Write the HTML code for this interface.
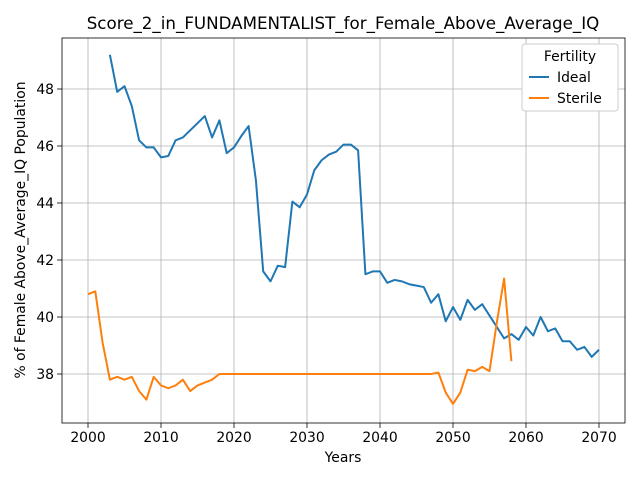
<!DOCTYPE html>
<html><head><meta charset="utf-8"><style>
body{margin:0;background:#fff;}
svg text{font-family:"DejaVu Sans","Liberation Sans",sans-serif;}
</style></head><body>
<svg id="chart" width="640" height="480" xmlns="http://www.w3.org/2000/svg"></svg>
<script>
const idealYears=[];for(let y=2003;y<=2070;y++)idealYears.push(y);
const idealValues=[49.2,47.9,48.1,47.4,46.2,45.95,45.95,45.6,45.65,46.2,46.3,46.55,46.8,47.05,46.3,46.9,45.75,45.95,46.35,46.7,44.8,41.6,41.25,41.8,41.75,44.05,43.85,44.3,45.15,45.5,45.7,45.8,46.05,46.05,45.85,41.5,41.6,41.6,41.2,41.3,41.25,41.15,41.1,41.05,40.5,40.8,39.85,40.35,39.9,40.6,40.25,40.45,40.05,39.65,39.25,39.4,39.2,39.65,39.35,40.0,39.5,39.6,39.15,39.15,38.85,38.95,38.6,38.85];
const sterileYears=[];for(let y=2000;y<=2058;y++)sterileYears.push(y);
const sterileValues=[40.8,40.9,39.1,37.8,37.9,37.8,37.9,37.4,37.1,37.9,37.6,37.5,37.6,37.8,37.4,37.6,37.7,37.8,38,38,38,38,38,38,38,38,38,38,38,38,38,38,38,38,38,38,38,38,38,38,38,38,38,38,38,38,38,38,38.05,37.35,36.95,37.35,38.15,38.1,38.25,38.1,39.8,41.35,38.45];
const xTicks=[2000,2010,2020,2030,2040,2050,2060,2070];
const yTicks=[38,40,42,44,46,48];
const L=62,R=625,T=38,B=423;
const X=v=>88+(v-2000)*7.3;
const Y=v=>374-(v-38)*28.5;
const svg=document.getElementById('chart');
const NS='http://www.w3.org/2000/svg';
function mk(tag,attrs,parent){const e=document.createElementNS(NS,tag);for(const k in attrs)e.setAttribute(k,attrs[k]);(parent||svg).appendChild(e);return e;}
function txt(s,attrs){const e=mk('text',attrs);e.textContent=s;return e;}
xTicks.forEach(t=>{
  const g=mk('line',{x1:X(t),x2:X(t),y1:T,y2:B,stroke:'#b0b0b0','stroke-width':0.8});
  
  
  mk('line',{x1:X(t),x2:X(t),y1:B,y2:B+5,stroke:'#000','stroke-width':0.8});
  const l=txt(t,{x:X(t),y:B+19,'text-anchor':'middle','font-size':13.9});
  
  
});
yTicks.forEach(t=>{
  const g=mk('line',{x1:L,x2:R,y1:Y(t),y2:Y(t),stroke:'#b0b0b0','stroke-width':0.8});
  
  
  mk('line',{x1:L-5,x2:L,y1:Y(t),y2:Y(t),stroke:'#000','stroke-width':0.8});
  const l=txt(t,{x:L-8,y:Y(t)+5,'text-anchor':'end','font-size':13.9});
  
  
});
function line(xs,vs,color,name){
  const p=mk('polyline',{points:xs.map((x,i)=>X(x)+','+Y(vs[i])).join(' '),fill:'none',stroke:color,'stroke-width':2,'stroke-linejoin':'round'});
  
  
}
line(idealYears,idealValues,'#1f77b4','ideal-line');
line(sterileYears,sterileValues,'#ff7f0e','sterile-line');
const fr=mk('rect',{x:L,y:T,width:R-L,height:B-T,fill:'none',stroke:'#000','stroke-width':0.8});


const ti=txt('Score_2_in_FUNDAMENTALIST_for_Female_Above_Average_IQ',{x:343,y:29,'text-anchor':'middle','font-size':16.7});


const xt=txt('Years',{x:343,y:462,'text-anchor':'middle','font-size':13.9});


const yt=txt('% of Female Above_Average_IQ Population',{x:0,y:0,'text-anchor':'middle','font-size':13.9,transform:'translate(25,230) rotate(-90)'});


const lg=mk('rect',{x:522,y:44,width:96,height:67,fill:'#fff',stroke:'#ccc',rx:3});


const lt=txt('Fertility',{x:570,y:61,'text-anchor':'middle','font-size':13.9});


[['Ideal','#1f77b4',77],['Sterile','#ff7f0e',98]].forEach(([n,c,y])=>{
  const s=mk('line',{x1:529,x2:549,y1:y,y2:y,stroke:c,'stroke-width':2});
  
  
  const t=txt(n,{x:557,y:y+5,'font-size':13.9});
  
  
});
</script>
</body></html>
